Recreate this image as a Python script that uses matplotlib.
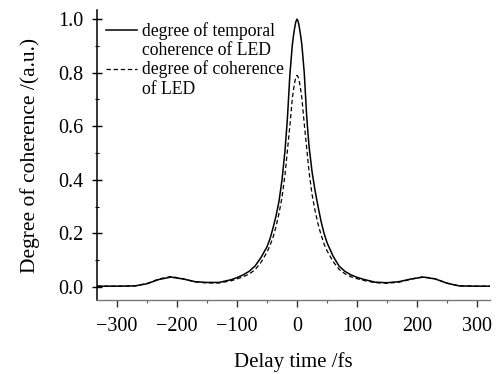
import numpy as np
import matplotlib as mpl
import matplotlib.pyplot as plt
from matplotlib.legend_handler import HandlerLine2D
from matplotlib.ticker import MultipleLocator

# delay time (fs) and read-off curve values
delay = [-333, -300, -270, -250, -230, -210, -190, -170, -150, -130, -110, -100,
         -90, -80, -70, -60, -50, -45, -40, -35, -30, -25, -20, -18, -16, -12,
         -8, -6, -4, -2, 0, 2, 4, 6, 8, 12, 16, 18, 20, 25, 30, 35, 40, 45, 50,
         60, 70, 80, 90, 100, 110, 130, 150, 170, 190, 210, 230, 250, 270, 300, 321]
temporal = [0.003, 0.003, 0.004, 0.012, 0.028, 0.037, 0.030, 0.020, 0.017, 0.017,
            0.027, 0.035, 0.045, 0.058, 0.078, 0.110, 0.150, 0.180, 0.220, 0.265,
            0.320, 0.400, 0.510, 0.570, 0.630, 0.790,
            0.900, 0.937, 0.967, 0.990, 1.000, 0.990, 0.967, 0.938, 0.905,
            0.800, 0.640, 0.580, 0.525, 0.430, 0.360, 0.300, 0.245, 0.200, 0.165,
            0.115, 0.078, 0.058, 0.045, 0.036, 0.029, 0.018, 0.016, 0.020,
            0.030, 0.037, 0.030, 0.014, 0.004, 0.003, 0.003]
coherence = [0.003, 0.003, 0.004, 0.013, 0.030, 0.039, 0.031, 0.019, 0.015, 0.015,
             0.023, 0.030, 0.038, 0.048, 0.064, 0.092, 0.130, 0.155, 0.185, 0.225,
             0.275, 0.335, 0.420, 0.465, 0.510, 0.600,
             0.700, 0.735, 0.763, 0.782, 0.790, 0.783, 0.765, 0.737, 0.705,
             0.610, 0.520, 0.475, 0.430, 0.345, 0.285, 0.235, 0.195, 0.160, 0.135,
             0.095, 0.066, 0.049, 0.038, 0.031, 0.025, 0.016, 0.014, 0.018,
             0.029, 0.038, 0.031, 0.014, 0.004, 0.003, 0.003]

labels = ["degree of temporal\ncoherence of LED", "degree of coherence\nof LED"]

plt.rcParams['font.family'] = ['Liberation Serif', 'DejaVu Serif']


class TopLineHandler(HandlerLine2D):
    # put the legend line level with the first line of a two-line label
    def create_artists(self, legend, orig_handle, xdescent, ydescent, width, height, fontsize, trans):
        arts = super().create_artists(legend, orig_handle, xdescent, ydescent, width, height, fontsize, trans)
        for a in arts:
            a.set_ydata(np.asarray(a.get_ydata()) + 0.6 * fontsize)
        return arts


fig = plt.figure(figsize=(4.96, 3.74), dpi=100)
ax = fig.add_axes([0.1956, 0.1979, 0.792, 0.7754])

l1, = ax.plot(delay, temporal, color='black', lw=1.1)
l2, = ax.plot(delay, coherence, color='black', lw=0.9, linestyle=(0, (3.5, 2.2)))

ax.set_xlim(-333, 321)
ax.set_ylim(-0.0485, 1.034)
ax.xaxis.set_major_locator(MultipleLocator(100))
ax.xaxis.set_minor_locator(MultipleLocator(50))
ax.yaxis.set_major_locator(MultipleLocator(0.2))
ax.yaxis.set_minor_locator(MultipleLocator(0.1))
ax.yaxis.set_major_formatter(mpl.ticker.FormatStrFormatter('%.1f'))

for s in ['top', 'right']:
    ax.spines[s].set_visible(False)
ax.spines['left'].set_linewidth(1.1)
ax.spines['bottom'].set_color('#777777')
ax.spines['bottom'].set_linewidth(1.0)

ax.tick_params(axis='x', which='major', direction='out', length=5, width=1, color='#333333',
               labelsize=14.5, pad=7)
ax.tick_params(axis='x', which='minor', direction='out', length=2.5, width=0.8, color='#555555')
ax.tick_params(axis='y', which='major', direction='inout', length=7.2, width=1, labelsize=14.5, pad=6)
ax.tick_params(axis='y', which='minor', direction='inout', length=3, width=0.8)

ax.set_xlabel("Delay time /fs", fontsize=15, labelpad=12)
ax.set_ylabel("Degree of coherence /(a.u.)", fontsize=15.5, labelpad=13)

ax.legend([l1, l2], labels, loc='upper left', bbox_to_anchor=(0.0, 0.99), frameon=False,
          fontsize=12.7, handlelength=1.75, handletextpad=0.3, labelspacing=0.08,
          borderaxespad=0.3, borderpad=0.2,
          handler_map={l1: TopLineHandler(), l2: TopLineHandler()})

plt.savefig("out.png", dpi=100)
